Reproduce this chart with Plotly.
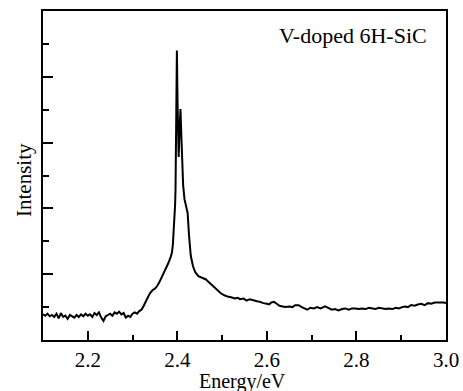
import plotly.graph_objects as go

energy = [
    2.100, 2.105, 2.110, 2.115, 2.120, 2.125, 2.130, 2.135, 2.140, 2.145,
    2.150, 2.155, 2.160, 2.165, 2.170, 2.175, 2.180, 2.185, 2.190, 2.195,
    2.200, 2.205, 2.210, 2.215, 2.220, 2.225, 2.230, 2.235, 2.240, 2.245,
    2.250, 2.255, 2.260, 2.265, 2.270, 2.275, 2.280, 2.285, 2.290, 2.295,
    2.300, 2.305, 2.310, 2.315, 2.320, 2.325, 2.330, 2.335, 2.340, 2.345,
    2.350, 2.355, 2.360, 2.365, 2.370, 2.375, 2.380, 2.385, 2.388, 2.390,
    2.392, 2.394, 2.395, 2.396, 2.397, 2.3975, 2.399, 2.4005, 2.402, 2.403,
    2.405, 2.407, 2.409, 2.411, 2.413, 2.416, 2.420, 2.423, 2.426, 2.430,
    2.435, 2.440, 2.447, 2.455, 2.464, 2.470, 2.478, 2.485, 2.490, 2.497,
    2.505, 2.512, 2.520, 2.528, 2.535, 2.540, 2.548, 2.555, 2.562, 2.570,
    2.578, 2.585, 2.592, 2.600, 2.605, 2.610, 2.616, 2.622, 2.628, 2.635,
    2.642, 2.650, 2.657, 2.663, 2.671, 2.678, 2.685, 2.690, 2.697, 2.705,
    2.712, 2.720, 2.730, 2.738, 2.745, 2.752, 2.760, 2.768, 2.775, 2.783,
    2.790, 2.797, 2.805, 2.812, 2.820, 2.828, 2.834, 2.842, 2.850, 2.858,
    2.865, 2.871, 2.880, 2.888, 2.895, 2.902, 2.908, 2.915, 2.922, 2.930,
    2.937, 2.945, 2.952, 2.960, 2.967, 2.975, 2.982, 2.990, 2.995, 3.000,
]
intensity = [
    0.39, 0.37, 0.40, 0.36, 0.38, 0.35, 0.40, 0.33, 0.41, 0.35,
    0.37, 0.32, 0.38, 0.36, 0.34, 0.38, 0.35, 0.39, 0.36, 0.40,
    0.37, 0.39, 0.35, 0.41, 0.38, 0.42, 0.34, 0.29, 0.36, 0.38,
    0.40, 0.37, 0.42, 0.40, 0.43, 0.39, 0.41, 0.34, 0.37, 0.35,
    0.40, 0.42, 0.40, 0.44, 0.46, 0.52, 0.60, 0.66, 0.72, 0.76,
    0.78, 0.82, 0.88, 0.95, 1.02, 1.10, 1.17, 1.26, 1.33, 1.45,
    1.63, 1.85, 2.05, 2.30, 3.00, 3.90, 4.40, 3.60, 2.85, 2.78,
    3.20, 3.51, 3.10, 2.60, 2.35, 2.14, 2.00, 1.93, 1.60, 1.28,
    1.12, 1.03, 0.97, 0.95, 0.92, 0.88, 0.83, 0.78, 0.75, 0.71,
    0.68, 0.66, 0.65, 0.63, 0.64, 0.62, 0.63, 0.60, 0.62, 0.60,
    0.59, 0.58, 0.56, 0.55, 0.54, 0.57, 0.58, 0.55, 0.52, 0.51,
    0.50, 0.51, 0.50, 0.53, 0.53, 0.50, 0.48, 0.46, 0.49, 0.48,
    0.50, 0.48, 0.51, 0.48, 0.46, 0.47, 0.45, 0.47, 0.48, 0.46,
    0.48, 0.48, 0.47, 0.48, 0.47, 0.49, 0.48, 0.47, 0.49, 0.48,
    0.47, 0.48, 0.47, 0.49, 0.48, 0.50, 0.51, 0.50, 0.53, 0.52,
    0.54, 0.55, 0.53, 0.56, 0.55, 0.57, 0.57, 0.58, 0.57, 0.56,
]

x_tickvals = [2.2, 2.4, 2.6, 2.8, 3.0]
x_ticktext = ["2.2", "2.4", "2.6", "2.8", "3.0"]

FONT = "Liberation Serif"

fig = go.Figure()
fig.add_trace(go.Scatter(
    x=energy, y=intensity, mode="lines",
    line=dict(color="black", width=2), showlegend=False,
))

fig.update_layout(
    template="none",
    width=463, height=391, autosize=False,
    margin=dict(l=43, r=17, t=11, b=51, pad=0),
    paper_bgcolor="white", plot_bgcolor="white",
    font=dict(family=FONT, size=20, color="black"),
    xaxis=dict(
        range=[2.1, 3.0], showgrid=False, zeroline=False, automargin=False,
        showline=True, linecolor="black", linewidth=2, mirror=True,
        ticks="inside", ticklen=9, tickwidth=2, tickcolor="black",
        tickvals=x_tickvals, ticktext=x_ticktext,
        minor=dict(ticks="inside", ticklen=5, tickwidth=2, tickcolor="black",
                   dtick=0.1, tick0=2.1, showgrid=False),
        tickfont=dict(family=FONT, size=21, color="black"),
    ),
    yaxis=dict(
        range=[0, 5], showgrid=False, zeroline=False, automargin=False,
        showline=True, linecolor="black", linewidth=2, mirror=True,
        ticks="inside", ticklen=10, tickwidth=2, tickcolor="black",
        tickvals=[1, 2, 3, 4], showticklabels=False,
        minor=dict(ticks="inside", ticklen=6, tickwidth=2, tickcolor="black",
                   tickvals=[0.5, 1.5, 2.5, 3.5, 4.5], showgrid=False),
    ),
    annotations=[
        dict(text="V-doped 6H-SiC", xref="paper", yref="paper",
             x=(353 - 43) / 403, y=(340 - 35) / 329, xanchor="center", yanchor="middle",
             showarrow=False, font=dict(family=FONT, size=22)),
        dict(text="Energy/eV", xref="paper", yref="paper",
             x=(242 - 43) / 403, y=(340 - 381) / 329, xanchor="center", yanchor="middle",
             showarrow=False, font=dict(family=FONT, size=20)),
        dict(text="Intensity", xref="paper", yref="paper", textangle=-90,
             x=(24 - 43) / 403, y=(340 - 180) / 329, xanchor="center", yanchor="middle",
             showarrow=False, font=dict(family=FONT, size=21)),
    ],
)

fig.write_html("out.html", config={"displayModeBar": False, "responsive": False},
               post_script="document.body.style.margin='0';")
